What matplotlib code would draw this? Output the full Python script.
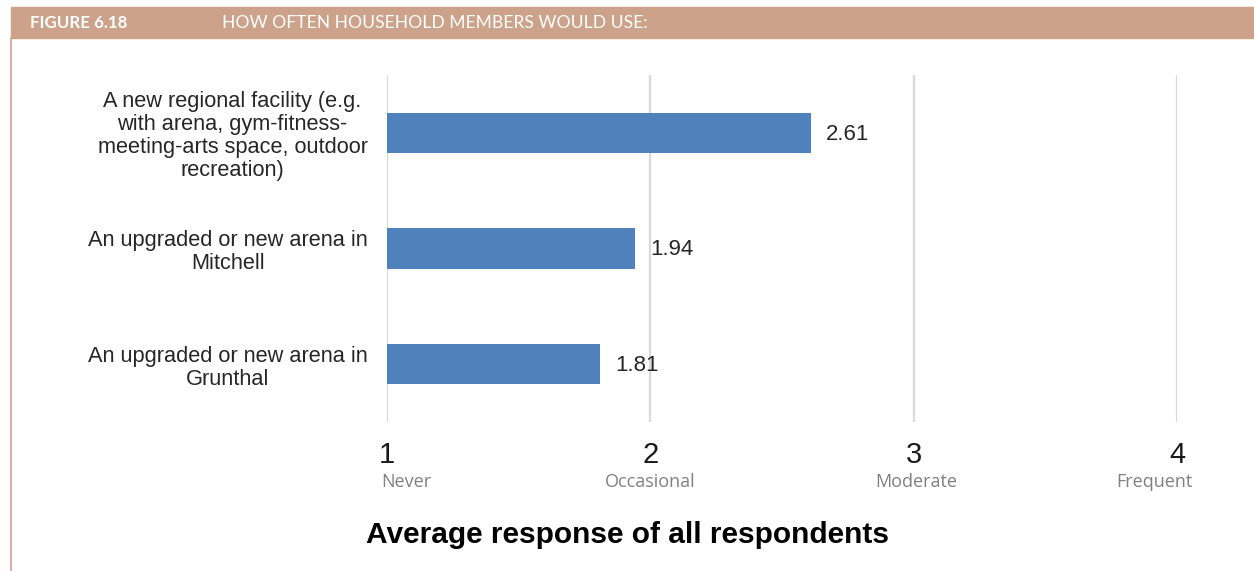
import matplotlib
matplotlib.use("Agg")
import matplotlib.pyplot as plt
from matplotlib.patches import Rectangle
from matplotlib.lines import Line2D
import matplotlib.transforms as mtransforms

# Survey data: average usage score per facility option
categories = [
    "A new regional facility (e.g.\nwith arena, gym-fitness-\nmeeting-arts space, outdoor\nrecreation)",
    "An upgraded or new arena in\nMitchell",
    "An upgraded or new arena in\nGrunthal",
]
scores = [2.61, 1.94, 1.81]
scale_ticks = [1, 2, 3, 4]
scale_names = ["Never", "Occasional", "Moderate", "Frequent"]

BAR = "#4f81bd"
HEADER = "#cda28a"
GRID = "#d9d9d9"

fig = plt.figure(figsize=(12.54, 5.71), dpi=100)

# header band and left rule
fig.patches.append(Rectangle((0.0088, 1 - 38 / 571), 1.0, 31 / 571,
                             transform=fig.transFigure, color=HEADER, zorder=0))
fig.lines.append(Line2D([0.0088, 0.0088], [0, 1 - 38 / 571],
                        transform=fig.transFigure, color=HEADER, lw=1.2))
fig.text(30 / 1254, 1 - 23 / 571, "FIGURE 6.18", color="white", fontsize=12.2,
         fontweight="bold", family="Lato", va="center", ha="left")
fig.text(222 / 1254, 1 - 23 / 571, "HOW OFTEN HOUSEHOLD MEMBERS WOULD USE:",
         color="white", fontsize=12.6, family="Lato", va="center", ha="left")

ax = fig.add_axes([387 / 1254, 1 - 422 / 571, 790 / 1254, 347 / 571])
y = list(range(len(categories)))
ax.barh(y, [s - 1 for s in scores], left=1, height=0.35, color=BAR, zorder=3)
ax.set_xlim(1, 4)
ax.set_ylim(2.5, -0.5)

for xv in scale_ticks:
    ax.axvline(xv, color=GRID, lw=1.6, zorder=1)

for yi, s in zip(y, scores):
    ax.annotate(f"{s:.2f}", (s, yi), xytext=(11, -1), textcoords="offset points",
                va="center", ha="left", fontsize=16, family="Liberation Sans",
                color="#262626")

ax.set_yticks(y)
ax.set_yticklabels(categories, fontsize=15.7, family="Liberation Sans",
                   color="#262626", multialignment="center", linespacing=1.12)
ax.tick_params(axis="y", length=0, pad=14)
ax.set_xticks([])
for sp in ax.spines.values():
    sp.set_visible(False)

# scale numbers and their names below the axis
trans = mtransforms.blended_transform_factory(ax.transData, fig.transFigure)
name_shift = [14, 0, 2, -16]
for xv, name, dx in zip(scale_ticks, scale_names, name_shift):
    ax.text(xv, 1 - 455 / 571, str(xv), transform=trans, ha="center", va="center",
            fontsize=21, family="Liberation Sans", color="#1a1a1a")
    ax.annotate(name, (xv, 1 - 482 / 571), xycoords=trans, xytext=(dx, 0),
                textcoords="offset points", ha="center", va="center",
                fontsize=13, family="Open Sans", color="#808080")

fig.text(628 / 1254, 1 - 535 / 571, "Average response of all respondents",
         ha="center", va="center", fontsize=21.5, fontweight="bold",
         family="Liberation Sans", color="black")

fig.savefig("out.png", dpi=100)
